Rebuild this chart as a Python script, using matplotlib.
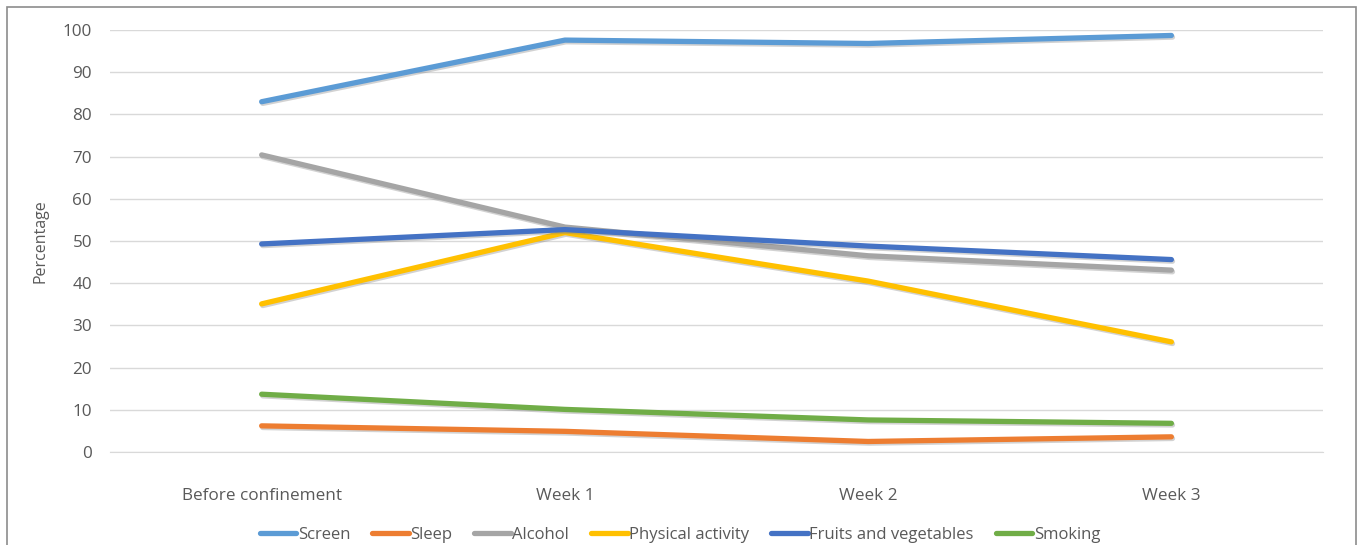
import matplotlib.pyplot as plt
import matplotlib.patheffects as pe
from matplotlib.patches import Rectangle

plt.rcParams['font.family'] = ['Open Sans', 'DejaVu Sans']

periods = ["Before confinement", "Week 1", "Week 2", "Week 3"]

screen = [83.0, 97.6, 96.8, 98.7]
sleep = [6.2, 4.9, 2.5, 3.6]
alcohol = [70.4, 53.3, 46.5, 43.1]
physical_activity = [35.1, 52.0, 40.5, 26.1]
fruits_vegetables = [49.3, 52.7, 48.8, 45.6]
smoking = [13.7, 10.1, 7.6, 6.8]

series = [
    ("Screen", screen, "#5B9BD5"),
    ("Sleep", sleep, "#ED7D31"),
    ("Alcohol", alcohol, "#A5A5A5"),
    ("Physical activity", physical_activity, "#FFC000"),
    ("Fruits and vegetables", fruits_vegetables, "#4472C4"),
    ("Smoking", smoking, "#70AD47"),
]

text_color = "#595959"

fig = plt.figure(figsize=(13.6, 5.45), dpi=100)
ax = fig.add_axes([0.0809, 0.1706, 0.8919, 0.7744])

# outer chart border
fig.patches.append(Rectangle((7 / 1360, -0.05), 1349 / 1360, 1.05 - 7 / 545,
                             transform=fig.transFigure, fill=False,
                             edgecolor="#8C8C8C", linewidth=1.2))

shadow = [pe.SimpleLineShadow(offset=(0.8, -1.2), shadow_color="#7F7F7F", alpha=0.35),
          pe.Normal()]

x = range(len(periods))
for name, values, color in series:
    ax.plot(x, values, color=color, linewidth=3.8, label=name,
            solid_capstyle="round", solid_joinstyle="round",
            path_effects=shadow)

ax.set_xlim(-0.5, len(periods) - 0.5)
ax.set_ylim(0, 100)
ax.set_yticks(range(0, 101, 10))
ax.set_xticks(list(x))
ax.set_xticklabels(periods)
ax.grid(axis="y", color="#D9D9D9", linewidth=1)
ax.set_axisbelow(True)
for side in ["top", "right", "left"]:
    ax.spines[side].set_visible(False)
ax.spines["bottom"].set_color("#D9D9D9")
ax.tick_params(axis="both", length=0, colors=text_color, labelsize=12.3)
ax.tick_params(axis="y", pad=13)
ax.tick_params(axis="x", pad=26)
ax.set_ylabel("Percentage", color=text_color, fontsize=11.5, labelpad=10)

leg = fig.legend(loc="center", bbox_to_anchor=(0.5, 0.018), ncol=6, frameon=False,
                 fontsize=12, handlelength=2.2, handletextpad=0.1, columnspacing=1.3)
for t in leg.get_texts():
    t.set_color(text_color)
for h in leg.get_lines():
    h.set_path_effects([])

fig.savefig("out.png", dpi=100)
